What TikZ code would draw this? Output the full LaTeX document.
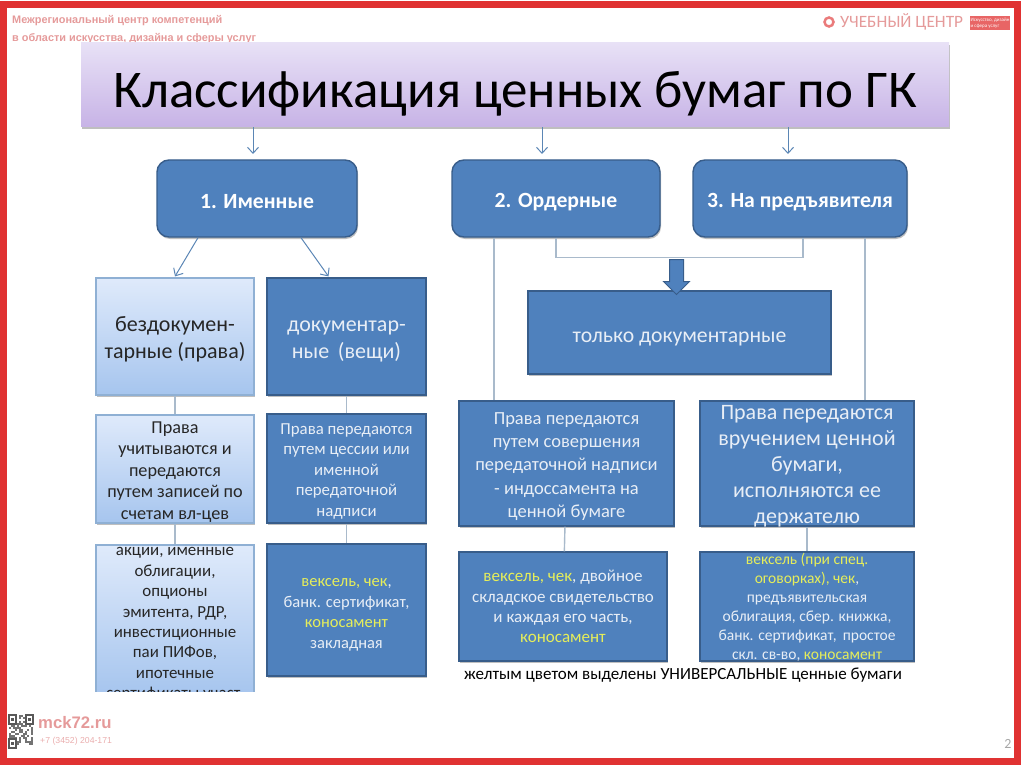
\documentclass[tikz,border=0pt]{standalone}
\usepackage{fontspec}
\setmainfont{Carlito}
\newfontfamily\headfont{Liberation Sans}
\usetikzlibrary{arrows.meta,shapes.arrows,shadows}
\definecolor{framered}{HTML}{E03232}
\definecolor{logored}{HTML}{E59A9A}
\definecolor{boxblue}{HTML}{4F81BD}
\definecolor{boxedge}{HTML}{385D8A}
\definecolor{lightedge}{HTML}{8FB0D4}
\definecolor{lighttop}{HTML}{DFEAFB}
\definecolor{lightbottom}{HTML}{A6C5EE}
\definecolor{titletop}{HTML}{E8E1F6}
\definecolor{titlebottom}{HTML}{C7B3E6}
\definecolor{linegrey}{HTML}{A9BACB}
\definecolor{arrowblue}{HTML}{5B86B5}
\definecolor{paletext}{HTML}{E8EEF6}
\definecolor{hiyellow}{HTML}{E6EE5A}
\newcommand{\hi}[1]{\textcolor{hiyellow}{#1}}
\newcommand{\dn}{\rule{0pt}{1.1em}}
\newcommand{\hdn}{\rule{0pt}{.95em}}
\tikzset{
  softshadow/.style={drop shadow={shadow xshift=1pt,shadow yshift=-2pt,opacity=.25,fill=black}},
  headbox/.style={draw=boxedge,line width=1.4pt,fill=boxblue,rounded corners=12pt,text=white,inner sep=0pt,softshadow,font=\fontsize{21.7}{25}\selectfont\bfseries},
  darkbox/.style={draw=boxedge,line width=1.2pt,fill=boxblue,text=paletext,inner sep=0pt,align=center,softshadow},
  lightbox/.style={draw=lightedge,line width=1.2pt,top color=lighttop,bottom color=lightbottom,text=black!85,inner sep=0pt,align=center,softshadow},
  arrowline/.style={draw=arrowblue,line width=1pt,-{Straight Barb[length=6pt,width=11pt]}},
  plainline/.style={draw=linegrey,line width=1.4pt}
}
\begin{document}
\begin{tikzpicture}[x=1pt,y=-1pt]
\useasboundingbox (0,0) rectangle (1024,767);
% school header and footer
\node[text=logored,anchor=west,inner sep=0pt,font=\headfont\fontsize{10.9}{13}\selectfont\bfseries] (centre1) at (12,21) {Межрегиональный центр компетенций};
\node[text=logored,anchor=west,inner sep=0pt,font=\headfont\fontsize{10.9}{13}\selectfont\bfseries] (centre2) at (12,38.5) {в области искусства, дизайна и сферы услуг};
\node[circle,draw=logored!80!red,line width=2.5pt,minimum size=9pt,inner sep=0pt] (logoring) at (829,22) {};
\node[text=logored,anchor=west,inner sep=0pt,font=\fontsize{17.3}{20}\selectfont] (logotext) at (840,22) {УЧЕБНЫЙ ЦЕНТР};
\node[fill=framered!75,text=white,align=left,minimum width=40pt,minimum height=14pt,inner sep=0pt,font=\fontsize{5}{6}\selectfont] (logotag) at (990,23) {Искусство, дизайн\\и сфера услуг};
% title
\node[top color=titletop,bottom color=titlebottom,minimum width=868pt,minimum height=84pt,inner sep=0pt,softshadow,font=\fontsize{53}{56}\selectfont,text=black] (title) at (515,85) {\rule{0pt}{1em}Классификация ценных бумаг по ГК};
% three kinds
\node[headbox,minimum width=200pt,minimum height=77pt] (named) at (257,198.5) {\hdn 1. Именные};
\node[headbox,minimum width=208pt,minimum height=77pt] (order) at (556,198.5) {\hdn 2. Ордерные};
\node[headbox,minimum width=214pt,minimum height=77pt] (bearer) at (800,198.5) {\hdn 3. На предъявителя};
\coordinate (titlearrow1) at (253,154);
\coordinate (titlearrow2) at (542,154);
\coordinate (titlearrow3) at (788,154);
\draw[arrowline] (title.south -| titlearrow1) -- (titlearrow1);
\draw[arrowline] (title.south -| titlearrow2) -- (titlearrow2);
\draw[arrowline] (title.south -| titlearrow3) -- (titlearrow3);
% left column
\node[lightbox,minimum width=158pt,minimum height=117pt,font=\fontsize{22}{27}\selectfont] (nodoc) at (175,336.5) {\hdn бездокумен-\\тарные (права)};
\node[darkbox,minimum width=159pt,minimum height=117pt,font=\fontsize{22}{27}\selectfont] (doc) at (346.5,336.5) {\hdn документар-\\ные\, (вещи)};
\node[lightbox,minimum width=158pt,minimum height=108pt,font=\fontsize{18.2}{21.5}\selectfont] (nodocright) at (175,469) {\hdn Права\\учитываются и\\передаются\\путем записей по\\счетам вл-цев};
\node[darkbox,minimum width=159pt,minimum height=109pt,font=\fontsize{16.8}{20.5}\selectfont] (docright) at (346.5,468.5) {\hdn Права передаются\\путем цессии или\\именной\\передаточной\\надписи};
\node[lightbox,minimum width=158pt,minimum height=150pt] (nodocpaper) at (175,620) {};
\node[align=center,inner sep=0pt,text=black!85,font=\fontsize{16.9}{20.4}\selectfont] (nodocpapertext) at (175,624.5) {акции, именные\\облигации,\\опционы\\эмитента, РДР,\\инвестиционные\\паи ПИФов,\\ипотечные\\сертификаты участ.};
\fill[white] (90,692) rectangle (262,712);
\node[darkbox,minimum width=159pt,minimum height=132pt,font=\fontsize{16.5}{20.5}\selectfont] (docpaper) at (346.5,610) {\dn\hi{вексель, чек},\\банк. сертификат,\\\hi{коносамент}\\закладная};
\draw[arrowline] ([xshift=-59pt]named.south) -- ([yshift=1pt]nodoc.north);
\draw[arrowline] ([xshift=44pt]named.south) -- ([xshift=-18pt,yshift=1pt]doc.north);
\draw[plainline] (nodoc) -- (nodocright);
\draw[plainline] (doc) -- (docright);
\draw[plainline] (nodocright) -- (nodocpaper);
\draw[plainline] (docright) -- (docpaper);
% right part
\node[darkbox,minimum width=303pt,minimum height=83pt,font=\fontsize{21.7}{25}\selectfont] (onlydoc) at (679.5,332.5) {\dn только документарные};
\node[darkbox,minimum width=215pt,minimum height=125pt,font=\fontsize{18.5}{23.3}\selectfont] (orderright) at (566.5,463.5) {\hdn Права передаются\\путем совершения\\передаточной надписи\\- индоссамента на\\ценной бумаге};
\node[darkbox,minimum width=214pt,minimum height=125pt] (bearerright) at (807,463.5) {};
\node[align=center,inner sep=0pt,text=paletext,font=\fontsize{22}{26}\selectfont] (bearerrighttext) at (807,466) {Права передаются\\вручением ценной\\бумаги,\\исполняются ее\\держателю};
\node[darkbox,minimum width=208pt,minimum height=109pt,font=\fontsize{17}{20.3}\selectfont] (orderpaper) at (563,606.5) {\hi{вексель, чек}, двойное\\складское свидетельство\\и каждая его часть,\\\hi{коносамент}};
\node[darkbox,minimum width=214pt,minimum height=109pt] (bearerpaper) at (807,606.5) {};
\node[align=center,inner sep=0pt,text=paletext,font=\fontsize{15.5}{19}\selectfont] (bearerpapertext) at (807,607.5) {\hi{вексель (при спец.}\\\hi{оговорках), чек},\\предъявительская\\облигация, сбер. книжка,\\банк. сертификат,\, простое\\скл. св-во, \hi{коносамент}};
\node[inner sep=0pt,text=black,font=\fontsize{17}{20}\selectfont] (yellownote) at (683,675) {желтым цветом выделены УНИВЕРСАЛЬНЫЕ ценные бумаги};
\coordinate (orderdrop) at ([xshift=-62pt]order.south);
\coordinate (bearerdrop) at ([xshift=65pt]bearer.south);
\coordinate (bearerjoin) at ([xshift=3pt]bearer.south);
\draw[plainline] (orderdrop) -- (orderdrop |- orderright.north);
\draw[plainline] (bearerdrop) -- (bearerdrop |- bearerright.north);
\draw[plainline] (order.south) -- ++(0,20) -| (bearerjoin);
\draw[plainline] (orderright) -- (orderpaper);
\draw[plainline] (bearerright) -- (bearerpaper);
\node[single arrow,draw=boxedge,line width=1pt,fill=boxblue,rotate=-90,minimum height=35pt,single arrow head extend=6pt,single arrow head indent=0pt,inner xsep=0pt,inner ysep=6.5pt] (bigarrow) at (676.5,273.5) {};
% footer
\node[text=logored,anchor=west,inner sep=0pt,font=\headfont\fontsize{16.7}{19}\selectfont\bfseries] (site) at (38,723) {mck72.ru};
\node[text=logored!80,anchor=west,inner sep=0pt,font=\headfont\fontsize{8.7}{11}\selectfont] (phone) at (40,741) {+7 (3452) 204-171};
\node[text=black!35,inner sep=0pt,font=\fontsize{14}{16}\selectfont] (pagenum) at (1008,744) {2};
\pgfmathsetseed{72}
\foreach \row in {0,...,16} {
  \foreach \col in {0,...,11} {
    \pgfmathparse{rnd<0.5?1:0}
    \ifnum\pgfmathresult=1
      \fill[black!55] (9+2*\col,715+2*\row) rectangle ++(2,2);
    \fi
  }
}
\foreach \qrx/\qry in {9/715,26/715,9/739} {
  \fill[white] (\qrx-1,\qry-1) rectangle ++(9,11);
  \draw[black!65,line width=1.2pt] (\qrx,\qry) rectangle ++(7,9);
  \fill[black!65] (\qrx+2,\qry+3) rectangle ++(3,3);
}
% red frame
\draw[framered,line width=7pt] (3.5,5) rectangle (1017.5,761);
\end{tikzpicture}
\end{document}
